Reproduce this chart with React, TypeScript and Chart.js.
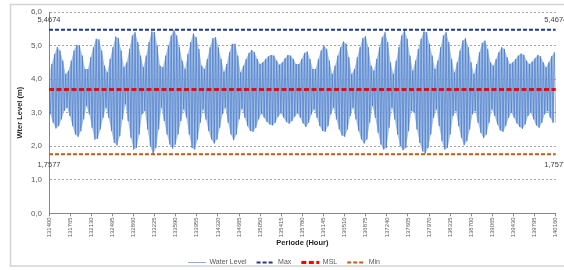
import React, { useEffect, useRef } from 'react';
import { Chart, registerables } from 'chart.js';

Chart.register(...registerables);

// ---- data ----
const startHour = 131400;
const endHour = 140160;
const sampleStepHours = 24; // one daily high, then one daily low

const hourTicks = [
  131400, 131765, 132130, 132495, 132860, 133225, 133590, 133955, 134320,
  134685, 135050, 135415, 135780, 136145, 136510, 136875, 137240, 137605,
  137970, 138335, 138700, 139065, 139430, 139795, 140160,
];
const levelTicks = [0, 1, 2, 3, 4, 5, 6];

// daily high-water envelope (m)
const highWater = [
  4.15, 4.45, 4.75, 4.96, 4.85, 4.55, 4.15, 4.25, 4.55, 4.85,
  5.02, 5.0, 4.7, 4.3, 4.3, 4.65, 4.95, 5.2, 5.18, 4.85,
  4.4, 4.2, 4.6, 4.95, 5.27, 5.22, 4.85, 4.35, 4.5, 4.9,
  5.3, 5.4, 5.1, 4.7, 4.35, 4.7, 5.1, 5.42, 5.4, 5.0,
  4.4, 4.35, 4.7, 5.0, 5.3, 5.46, 5.3, 4.95, 4.55, 4.3,
  4.75, 5.1, 5.36, 5.25, 4.9, 4.4, 4.3, 4.6, 4.95, 5.22,
  5.25, 4.95, 4.6, 4.22, 4.45, 4.8, 5.05, 5.05, 4.7, 4.2,
  4.4, 4.6, 4.78, 4.87, 4.8, 4.6, 4.45, 4.5, 4.6, 4.68,
  4.72, 4.7, 4.55, 4.43, 4.5, 4.62, 4.72, 4.7, 4.6, 4.45,
  4.45, 4.6, 4.78, 4.82, 4.6, 4.3, 4.3, 4.6, 4.85, 5.0,
  4.9, 4.55, 4.15, 4.4, 4.7, 4.95, 5.12, 5.05, 4.65, 4.15,
  4.3, 4.65, 4.95, 5.22, 5.28, 4.95, 4.4, 4.25, 4.6, 4.95,
  5.25, 5.4, 5.1, 4.5, 4.15, 4.55, 4.95, 5.3, 5.4674, 5.2,
  4.7, 4.25, 4.55, 4.9, 5.2, 5.42, 5.4, 5.05, 4.7, 4.3,
  4.55, 4.95, 5.3, 5.4, 5.1, 4.6, 4.2, 4.5, 4.85, 5.15,
  5.22, 4.95, 4.5, 4.15, 4.45, 4.8, 5.08, 5.15, 4.9, 4.5,
  4.4, 4.6, 4.8, 4.95, 4.9, 4.65, 4.45, 4.5, 4.6, 4.7,
  4.76, 4.72, 4.55, 4.45, 4.52, 4.62, 4.72, 4.68, 4.5, 4.35,
  4.5, 4.68, 4.8,
];

// daily low-water envelope (m)
const lowWater = [
  2.95, 2.7, 2.53, 2.6, 2.8, 3.05, 3.15, 2.9, 2.6, 2.35,
  2.28, 2.45, 2.8, 3.2, 2.95, 2.55, 2.2, 2.22, 2.5, 2.85,
  3.15, 2.85, 2.45, 2.1, 2.02, 2.3, 2.8, 3.25, 2.75, 2.25,
  1.9, 1.95, 2.35, 2.95, 3.05, 2.5, 2.0, 1.7577, 1.95, 2.5,
  3.15, 2.75, 2.35, 2.05, 1.93, 2.05, 2.35, 2.75, 3.1, 2.85,
  2.35, 1.95, 1.9, 2.2, 2.7, 3.1, 2.8, 2.45, 2.2, 2.08,
  2.2, 2.55, 2.95, 3.15, 2.7, 2.35, 2.18, 2.35, 2.8, 3.12,
  2.85, 2.6, 2.45, 2.43, 2.55, 2.8, 2.97, 2.85, 2.72, 2.65,
  2.62, 2.7, 2.88, 2.98, 2.85, 2.72, 2.67, 2.75, 2.88, 2.98,
  2.85, 2.68, 2.57, 2.7, 2.95, 3.1, 2.85, 2.6, 2.45, 2.43,
  2.6, 2.95, 3.15, 2.8, 2.5, 2.32, 2.28, 2.5, 2.9, 3.15,
  2.8, 2.45, 2.2, 2.08, 2.2, 2.7, 3.2, 2.85, 2.4, 2.05,
  1.9, 1.95, 2.55, 3.15, 2.8, 2.35, 2.0, 1.88, 1.95, 2.45,
  3.05, 3.0, 2.5, 2.1, 1.85, 1.78, 1.95, 2.35, 2.85, 3.1,
  2.6, 2.15, 1.9, 1.95, 2.35, 2.9, 3.05, 2.6, 2.25, 2.03,
  2.15, 2.5, 2.95, 3.05, 2.7, 2.4, 2.24, 2.35, 2.7, 3.1,
  2.9, 2.65, 2.47, 2.43, 2.6, 2.85, 3.0, 2.85, 2.68, 2.57,
  2.52, 2.65, 2.9, 3.0, 2.8, 2.62, 2.55, 2.7, 2.95, 3.05,
  2.85, 2.7, 2.7,
];

const maxLevel = 5.4674;
const mslLevel = 3.69;
const minLevel = 1.7577;

const seriesNames = ['Water Level', 'Max', 'MSL', 'Min'];
const xTitle = 'Periode (Hour)';
const yTitle = 'Wter Level (m)';

// ---- helpers ----
const FONT = "'Liberation Sans', Arial, sans-serif";
const comma = (v: number, d: number) => v.toFixed(d).replace('.', ',');

const highPoints = highWater.map((h, i) => ({ x: startHour + 2 * i * sampleStepHours, y: h }));
const lowPoints = lowWater.map((l, i) => ({ x: startHour + (2 * i + 1) * sampleStepHours, y: l }));
const waterPoints: { x: number; y: number }[] = [];
highPoints.forEach((p, i) => {
  waterPoints.push(p);
  waterPoints.push(lowPoints[i]);
});
const flat = (v: number) => [
  { x: startHour, y: v },
  { x: endHour, y: v },
];

const framePlugin = {
  id: 'frameBg',
  beforeDraw(chart: any) {
    const ctx = chart.ctx;
    ctx.save();
    ctx.fillStyle = '#ffffff';
    ctx.fillRect(0, 0, chart.width, chart.height);
    ctx.strokeStyle = '#d4d4d4';
    ctx.lineWidth = 1.5;
    ctx.strokeRect(10.5, 4.5, chart.width + 20, 261.5);
    ctx.restore();
  },
};

const valueLabelPlugin = {
  id: 'valueLabels',
  afterDatasetsDraw(chart: any) {
    const ctx = chart.ctx;
    ctx.save();
    ctx.font = `7.5px ${FONT}`;
    ctx.fillStyle = '#404040';
    ctx.textAlign = 'center';
    ctx.textBaseline = 'middle';
    [
      { idx: 1, dy: -10 },
      { idx: 3, dy: 11 },
    ].forEach(({ idx, dy }) => {
      const meta = chart.getDatasetMeta(idx);
      const ds = chart.data.datasets[idx];
      meta.data.forEach((pt: any, i: number) => {
        ctx.fillText(comma(ds.data[i].y, 4), pt.x, pt.y + dy);
      });
    });
    ctx.restore();
  },
};

export default function App() {
  const ref = useRef<HTMLCanvasElement>(null);

  useEffect(() => {
    document.body.style.margin = '0';
    const canvas = ref.current;
    if (!canvas) return;
    const baseGen = (Chart as any).defaults.plugins.legend.labels.generateLabels;
    const chart = new Chart(canvas, {
      type: 'line',
      data: {
        datasets: [
          {
            label: seriesNames[0],
            data: waterPoints,
            borderColor: 'rgba(68,114,196,0.6)',
            backgroundColor: 'rgba(68,114,196,0.6)',
            borderWidth: 1,
            pointRadius: 0,
            tension: 0,
            order: 10,
            pointStyle: 'line',
          },
          {
            label: seriesNames[1],
            data: flat(maxLevel),
            borderColor: '#1f3a87',
            backgroundColor: '#1f3a87',
            borderWidth: 2,
            borderDash: [4, 2],
            pointRadius: 0,
            order: 1,
            pointStyle: 'line',
          },
          {
            label: seriesNames[2],
            data: flat(mslLevel),
            borderColor: '#ff0000',
            backgroundColor: '#ff0000',
            borderWidth: 3,
            borderDash: [5, 2.5],
            pointRadius: 0,
            order: 0,
            pointStyle: 'line',
          },
          {
            label: seriesNames[3],
            data: flat(minLevel),
            borderColor: '#c55a11',
            backgroundColor: '#c55a11',
            borderWidth: 2,
            borderDash: [4, 2],
            pointRadius: 0,
            order: 1,
            pointStyle: 'line',
          },
          {
            label: 'band-high',
            data: highPoints,
            borderWidth: 0,
            borderColor: 'rgba(0,0,0,0)',
            backgroundColor: 'rgba(141,180,226,0.8)',
            pointRadius: 0,
            tension: 0,
            fill: '+1',
            order: 20,
          },
          {
            label: 'band-low',
            data: lowPoints,
            borderWidth: 0,
            borderColor: 'rgba(0,0,0,0)',
            pointRadius: 0,
            tension: 0,
            fill: false,
            order: 21,
          },
        ],
      },
      options: {
        animation: false,
        responsive: false,
        devicePixelRatio: 1,
        parsing: false as any,
        layout: { padding: { left: 10, top: 12, right: 6, bottom: -6 } },
        plugins: {
          legend: {
            position: 'bottom',
            labels: {
              usePointStyle: true,
              pointStyleWidth: 18,
              boxHeight: 7,
              padding: 10,
              color: '#595959',
              font: { family: FONT, size: 7 },
              filter: (item: any) => item.datasetIndex < 4,
              sort: (a: any, b: any) => a.datasetIndex - b.datasetIndex,
              generateLabels: (chart: any) =>
                baseGen(chart).map((item: any) => {
                  const ds = chart.data.datasets[item.datasetIndex];
                  return {
                    ...item,
                    pointStyle: 'line',
                    strokeStyle: ds.borderColor,
                    lineWidth: ds.borderWidth,
                    lineDash: ds.borderDash || [],
                  };
                }),
            },
          },
          tooltip: { enabled: false },
        },
        scales: {
          x: {
            type: 'linear',
            min: startHour,
            max: endHour,
            afterBuildTicks: (scale: any) => {
              scale.ticks = hourTicks.map((v) => ({ value: v }));
            },
            afterFit: (scale: any) => {
              scale.height = 35.7;
            },
            ticks: {
              minRotation: 90,
              maxRotation: 90,
              autoSkip: false,
              padding: 1,
              color: '#595959',
              font: { family: FONT, size: 6 },
              callback: (v: any) => String(v),
            },
            grid: {
              drawOnChartArea: false,
              drawTicks: true,
              tickLength: 3,
              color: '#868686',
            },
            border: { display: true, color: '#868686', width: 1 },
            title: {
              display: true,
              text: xTitle,
              color: '#262626',
              font: { family: FONT, size: 7.5, weight: 'bold' },
              padding: { top: 0, bottom: 1.5 },
            },
          },
          y: {
            type: 'linear',
            min: 0,
            max: 6,
            afterBuildTicks: (scale: any) => {
              scale.ticks = levelTicks.map((v) => ({ value: v }));
            },
            afterFit: (scale: any) => {
              scale.width = 39;
            },
            ticks: {
              padding: 7,
              color: '#595959',
              font: { family: FONT, size: 8 },
              callback: (v: any) => comma(Number(v), 1),
            },
            grid: {
              drawTicks: false,
              color: (c: any) => (c.tick && c.tick.value === 0 ? 'rgba(0,0,0,0)' : '#a6a6a6'),
              lineWidth: 1,
            },
            border: { display: true, color: '#868686', width: 1, dash: [2, 2] },
            title: {
              display: true,
              text: yTitle,
              color: '#262626',
              font: { family: FONT, size: 7.5, weight: 'bold' },
              padding: { top: 5.5, bottom: 0 },
            },
          },
        },
      },
      plugins: [framePlugin, valueLabelPlugin],
    } as any);
    return () => chart.destroy();
  }, []);

  return (
    <canvas
      ref={ref}
      width={564}
      height={270}
      style={{ display: 'block', width: 564, height: 270 }}
    />
  );
}
